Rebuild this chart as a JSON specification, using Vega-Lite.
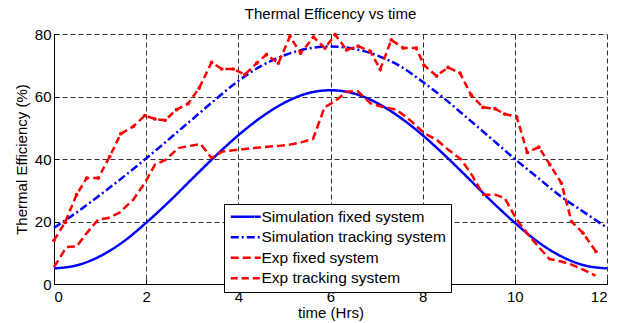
{
  "$schema": "https://vega.github.io/schema/vega-lite/v6.json",
  "width": 553,
  "height": 250,
  "autosize": {"type": "none"},
  "padding": {"left": 54, "top": 34, "right": 19, "bottom": 39},
  "title": {"text": "Thermal Efficency vs time", "fontSize": 15, "fontWeight": "normal", "font": "Liberation Sans", "color": "#000", "offset": 5},
  "config": {
    "view": {"stroke": null},
    "font": "Liberation Sans",
    "axis": {
      "grid": true, "gridDash": [5, 3], "gridColor": "#333", "gridOpacity": 1, "gridWidth": 1,
      "domainColor": "#000", "domainWidth": 1, "tickColor": "#000", "tickSize": -5,
      "labelFontSize": 15, "labelColor": "#000", "labelFont": "Liberation Sans",
      "titleFontSize": 15, "titleFontWeight": "normal", "titleColor": "#000", "titleFont": "Liberation Sans"
    }
  },
  "data": {"values": [
    {"s": "Simulation fixed system", "t": 0, "y": 5},
    {"s": "Simulation fixed system", "t": 0.5, "y": 6},
    {"s": "Simulation fixed system", "t": 1, "y": 8.9},
    {"s": "Simulation fixed system", "t": 1.5, "y": 13.5},
    {"s": "Simulation fixed system", "t": 2, "y": 19.6},
    {"s": "Simulation fixed system", "t": 2.5, "y": 26.4},
    {"s": "Simulation fixed system", "t": 3, "y": 33.7},
    {"s": "Simulation fixed system", "t": 3.5, "y": 40.9},
    {"s": "Simulation fixed system", "t": 4, "y": 47.6},
    {"s": "Simulation fixed system", "t": 4.5, "y": 53.4},
    {"s": "Simulation fixed system", "t": 5, "y": 58},
    {"s": "Simulation fixed system", "t": 5.5, "y": 61},
    {"s": "Simulation fixed system", "t": 6, "y": 62},
    {"s": "Simulation fixed system", "t": 6.5, "y": 61},
    {"s": "Simulation fixed system", "t": 7, "y": 58},
    {"s": "Simulation fixed system", "t": 7.5, "y": 53.4},
    {"s": "Simulation fixed system", "t": 8, "y": 47.6},
    {"s": "Simulation fixed system", "t": 8.5, "y": 40.9},
    {"s": "Simulation fixed system", "t": 9, "y": 33.7},
    {"s": "Simulation fixed system", "t": 9.5, "y": 26.4},
    {"s": "Simulation fixed system", "t": 10, "y": 19.6},
    {"s": "Simulation fixed system", "t": 10.5, "y": 13.5},
    {"s": "Simulation fixed system", "t": 11, "y": 8.9},
    {"s": "Simulation fixed system", "t": 11.5, "y": 6},
    {"s": "Simulation fixed system", "t": 12, "y": 5},
    {"s": "Simulation tracking system", "t": 0, "y": 18},
    {"s": "Simulation tracking system", "t": 0.5, "y": 23},
    {"s": "Simulation tracking system", "t": 1, "y": 28.5},
    {"s": "Simulation tracking system", "t": 1.5, "y": 34.2},
    {"s": "Simulation tracking system", "t": 2, "y": 40.2},
    {"s": "Simulation tracking system", "t": 2.5, "y": 46.4},
    {"s": "Simulation tracking system", "t": 3, "y": 52.7},
    {"s": "Simulation tracking system", "t": 3.5, "y": 59},
    {"s": "Simulation tracking system", "t": 4, "y": 65},
    {"s": "Simulation tracking system", "t": 4.5, "y": 69.8},
    {"s": "Simulation tracking system", "t": 5, "y": 73.2},
    {"s": "Simulation tracking system", "t": 5.5, "y": 75.3},
    {"s": "Simulation tracking system", "t": 6, "y": 76},
    {"s": "Simulation tracking system", "t": 6.5, "y": 75.3},
    {"s": "Simulation tracking system", "t": 7, "y": 73.2},
    {"s": "Simulation tracking system", "t": 7.5, "y": 69.8},
    {"s": "Simulation tracking system", "t": 8, "y": 64.7},
    {"s": "Simulation tracking system", "t": 8.5, "y": 59},
    {"s": "Simulation tracking system", "t": 9, "y": 52.7},
    {"s": "Simulation tracking system", "t": 9.5, "y": 46.4},
    {"s": "Simulation tracking system", "t": 10, "y": 40},
    {"s": "Simulation tracking system", "t": 10.5, "y": 34},
    {"s": "Simulation tracking system", "t": 11, "y": 28},
    {"s": "Simulation tracking system", "t": 11.5, "y": 23},
    {"s": "Simulation tracking system", "t": 12, "y": 18},
    {"s": "Exp fixed system", "t": 0, "y": 5.4},
    {"s": "Exp fixed system", "t": 0.27, "y": 11.8},
    {"s": "Exp fixed system", "t": 0.49, "y": 12},
    {"s": "Exp fixed system", "t": 0.71, "y": 16.3},
    {"s": "Exp fixed system", "t": 0.96, "y": 20.6},
    {"s": "Exp fixed system", "t": 1.18, "y": 21.1},
    {"s": "Exp fixed system", "t": 1.43, "y": 22.9},
    {"s": "Exp fixed system", "t": 1.72, "y": 27},
    {"s": "Exp fixed system", "t": 1.97, "y": 32.3},
    {"s": "Exp fixed system", "t": 2.19, "y": 38.2},
    {"s": "Exp fixed system", "t": 2.41, "y": 39.6},
    {"s": "Exp fixed system", "t": 2.7, "y": 43.5},
    {"s": "Exp fixed system", "t": 2.95, "y": 44.2},
    {"s": "Exp fixed system", "t": 3.18, "y": 44.8},
    {"s": "Exp fixed system", "t": 3.42, "y": 40.3},
    {"s": "Exp fixed system", "t": 3.66, "y": 42.4},
    {"s": "Exp fixed system", "t": 3.9, "y": 42.8},
    {"s": "Exp fixed system", "t": 4.15, "y": 43.2},
    {"s": "Exp fixed system", "t": 4.4, "y": 43.6},
    {"s": "Exp fixed system", "t": 4.63, "y": 43.9},
    {"s": "Exp fixed system", "t": 4.88, "y": 44.2},
    {"s": "Exp fixed system", "t": 5.12, "y": 44.6},
    {"s": "Exp fixed system", "t": 5.38, "y": 45.4},
    {"s": "Exp fixed system", "t": 5.62, "y": 46.4},
    {"s": "Exp fixed system", "t": 5.87, "y": 56.5},
    {"s": "Exp fixed system", "t": 6.1, "y": 58.5},
    {"s": "Exp fixed system", "t": 6.35, "y": 61.6},
    {"s": "Exp fixed system", "t": 6.6, "y": 61.6},
    {"s": "Exp fixed system", "t": 6.87, "y": 57.8},
    {"s": "Exp fixed system", "t": 7.12, "y": 56.7},
    {"s": "Exp fixed system", "t": 7.43, "y": 55.8},
    {"s": "Exp fixed system", "t": 7.72, "y": 52.5},
    {"s": "Exp fixed system", "t": 8.03, "y": 48.3},
    {"s": "Exp fixed system", "t": 8.3, "y": 46.2},
    {"s": "Exp fixed system", "t": 8.55, "y": 43},
    {"s": "Exp fixed system", "t": 8.84, "y": 39.8},
    {"s": "Exp fixed system", "t": 9.07, "y": 34.8},
    {"s": "Exp fixed system", "t": 9.31, "y": 28.6},
    {"s": "Exp fixed system", "t": 9.57, "y": 28.6},
    {"s": "Exp fixed system", "t": 9.78, "y": 27.5},
    {"s": "Exp fixed system", "t": 10.04, "y": 20.6},
    {"s": "Exp fixed system", "t": 10.29, "y": 15.8},
    {"s": "Exp fixed system", "t": 10.51, "y": 12},
    {"s": "Exp fixed system", "t": 10.75, "y": 8},
    {"s": "Exp fixed system", "t": 11.01, "y": 7.2},
    {"s": "Exp fixed system", "t": 11.23, "y": 6.2},
    {"s": "Exp fixed system", "t": 11.48, "y": 4.6},
    {"s": "Exp fixed system", "t": 11.75, "y": 2.7},
    {"s": "Exp tracking system", "t": 0, "y": 14},
    {"s": "Exp tracking system", "t": 0.24, "y": 19.7},
    {"s": "Exp tracking system", "t": 0.49, "y": 28.6},
    {"s": "Exp tracking system", "t": 0.71, "y": 33.9},
    {"s": "Exp tracking system", "t": 0.96, "y": 33.9},
    {"s": "Exp tracking system", "t": 1.21, "y": 40.8},
    {"s": "Exp tracking system", "t": 1.45, "y": 48.1},
    {"s": "Exp tracking system", "t": 1.72, "y": 50.4},
    {"s": "Exp tracking system", "t": 1.97, "y": 53.9},
    {"s": "Exp tracking system", "t": 2.19, "y": 52.8},
    {"s": "Exp tracking system", "t": 2.41, "y": 52.4},
    {"s": "Exp tracking system", "t": 2.66, "y": 55.8},
    {"s": "Exp tracking system", "t": 2.91, "y": 57.7},
    {"s": "Exp tracking system", "t": 3.15, "y": 62.7},
    {"s": "Exp tracking system", "t": 3.42, "y": 70.9},
    {"s": "Exp tracking system", "t": 3.64, "y": 68.8},
    {"s": "Exp tracking system", "t": 3.89, "y": 68.8},
    {"s": "Exp tracking system", "t": 4.14, "y": 67},
    {"s": "Exp tracking system", "t": 4.4, "y": 70.7},
    {"s": "Exp tracking system", "t": 4.61, "y": 73.4},
    {"s": "Exp tracking system", "t": 4.87, "y": 70.7},
    {"s": "Exp tracking system", "t": 5.12, "y": 79.2},
    {"s": "Exp tracking system", "t": 5.35, "y": 73.9},
    {"s": "Exp tracking system", "t": 5.63, "y": 79},
    {"s": "Exp tracking system", "t": 5.88, "y": 75.5},
    {"s": "Exp tracking system", "t": 6.1, "y": 79.8},
    {"s": "Exp tracking system", "t": 6.35, "y": 74.9},
    {"s": "Exp tracking system", "t": 6.6, "y": 76.1},
    {"s": "Exp tracking system", "t": 6.86, "y": 74.5},
    {"s": "Exp tracking system", "t": 7.08, "y": 68.7},
    {"s": "Exp tracking system", "t": 7.32, "y": 78.1},
    {"s": "Exp tracking system", "t": 7.58, "y": 75.5},
    {"s": "Exp tracking system", "t": 7.86, "y": 75.5},
    {"s": "Exp tracking system", "t": 8.03, "y": 70},
    {"s": "Exp tracking system", "t": 8.3, "y": 66.6},
    {"s": "Exp tracking system", "t": 8.55, "y": 69.3},
    {"s": "Exp tracking system", "t": 8.81, "y": 67.5},
    {"s": "Exp tracking system", "t": 9.05, "y": 60.5},
    {"s": "Exp tracking system", "t": 9.31, "y": 56.5},
    {"s": "Exp tracking system", "t": 9.57, "y": 56.1},
    {"s": "Exp tracking system", "t": 9.78, "y": 54.4},
    {"s": "Exp tracking system", "t": 10.04, "y": 53.5},
    {"s": "Exp tracking system", "t": 10.27, "y": 42.1},
    {"s": "Exp tracking system", "t": 10.52, "y": 43.8},
    {"s": "Exp tracking system", "t": 10.76, "y": 38.2},
    {"s": "Exp tracking system", "t": 11.01, "y": 32.3},
    {"s": "Exp tracking system", "t": 11.23, "y": 20},
    {"s": "Exp tracking system", "t": 11.48, "y": 16.3},
    {"s": "Exp tracking system", "t": 11.76, "y": 10.4}
  ]},
  "encoding": {
    "x": {"field": "t", "type": "quantitative", "scale": {"domain": [0, 12], "nice": false, "zero": false},
          "axis": {"title": "time (Hrs)", "values": [0, 2, 4, 6, 8, 10, 12], "labelPadding": 10, "titlePadding": 1}},
    "y": {"field": "y", "type": "quantitative", "scale": {"domain": [0, 80], "nice": false},
          "axis": {"title": "Thermal Efficiency (%)", "values": [0, 20, 40, 60, 80], "labelPadding": 8, "titlePadding": 5}},
    "color": {"field": "s", "type": "nominal",
      "scale": {"domain": ["Simulation fixed system", "Simulation tracking system", "Exp fixed system", "Exp tracking system"],
                "range": ["#0000ff", "#0000ff", "#ff0000", "#ff0000"]},
      "legend": {"title": null, "orient": "none", "legendX": 170, "legendY": 170,
        "strokeColor": "#000", "fillColor": "#fff", "padding": 5, "rowPadding": 3.5,
        "symbolType": "M-3,0H3", "symbolSize": 100, "symbolOffset": 9, "symbolStrokeWidth": 2.5,
        "labelFontSize": 15.5, "labelColor": "#000", "labelFont": "Liberation Sans", "labelOffset": 8, "labelLimit": 300}},
    "strokeDash": {"field": "s", "type": "nominal",
      "scale": {"domain": ["Simulation fixed system", "Simulation tracking system", "Exp fixed system", "Exp tracking system"],
                "range": [[1, 0], [8, 3, 2, 3], [8, 4], [7, 4]]}}
  },
  "layer": [
    {"transform": [{"filter": "indexof(datum.s, 'Simulation') == 0"}],
     "mark": {"type": "line", "strokeWidth": 2.5, "interpolate": "monotone"}},
    {"transform": [{"filter": "indexof(datum.s, 'Exp') == 0"}],
     "mark": {"type": "line", "strokeWidth": 2.5}},
    {"transform": [{"filter": "datum.s == 'Exp tracking system'"}],
     "mark": {"type": "point", "filled": true, "size": 14, "opacity": 1, "color": "#ff0000"},
     "encoding": {"color": {"value": "#ff0000"}, "strokeDash": {"value": [1, 0]}}}
  ]
}
